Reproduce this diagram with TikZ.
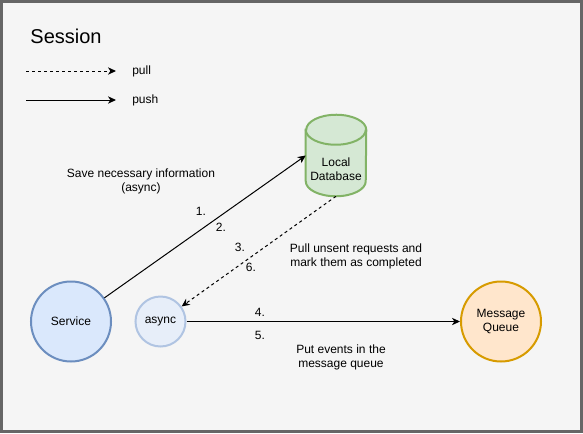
\documentclass[tikz,border=0pt]{standalone}
\usepackage{fontspec}
\setmainfont{Liberation Sans}
\usetikzlibrary{positioning,arrows.meta}
\definecolor{frameGray}{HTML}{666666}
\definecolor{paper}{HTML}{F5F5F5}
\definecolor{serviceFill}{HTML}{DAE8FC}
\definecolor{serviceLine}{HTML}{6C8EBF}
\definecolor{asyncFill}{HTML}{E7EEF9}
\definecolor{asyncLine}{HTML}{B0C4E2}
\definecolor{dbFill}{HTML}{D5E8D4}
\definecolor{dbLine}{HTML}{82B366}
\definecolor{queueFill}{HTML}{FFE6CC}
\definecolor{queueLine}{HTML}{D79B00}
\tikzset{
  every node/.style={font=\fontsize{9}{10.5}\selectfont},
  blob/.style={circle, draw, line width=1.5pt, inner sep=0pt, align=center},
  note/.style={align=center, inner sep=0pt},
  dbshape/.style={draw=dbLine, line width=1.5pt},
  dbrim/.style={x radius=22.5pt, y radius=11.25pt},
  pusharrow/.style={-{Stealth[length=6pt,width=5.5pt,inset=1.8pt]}, line width=0.75pt},
  pullarrow/.style={pusharrow, dash pattern=on 2.25pt off 2.25pt},
}
\begin{document}
\begin{tikzpicture}[x=0.75pt,y=-0.75pt]
\useasboundingbox (0,0) rectangle (583,433);
\draw[frameGray, fill=paper, line width=2.25pt] (1.5,1.5) rectangle (581.5,431.5);
% legend
\node (title) [font=\fontsize{15}{18}\selectfont] at (66,36) {Session};
\coordinate (pullA) at (26,71);
\coordinate (pullB) at (116,71);
\coordinate (pushA) at (26,100);
\coordinate (pushB) at (116,100);
\draw[pullarrow] (pullA) -- (pullB);
\draw[pusharrow] (pushA) -- (pushB);
\node (pull) [inner sep=0pt, right=12pt of pullB] {pull};
\node (push) [inner sep=0pt, right=12pt of pushB] {push};
% nodes
\node[blob, fill=serviceFill, draw=serviceLine, minimum size=60pt] (service) at (71,321.5) {Service};
\node[blob, fill=asyncFill, draw=asyncLine, minimum size=37.5pt] (async) at (160.5,321.5) {async};
\node[blob, fill=queueFill, draw=queueLine, minimum size=60pt] (queue) at (501,321.5) {Message\\Queue};
\node[minimum width=45pt, minimum height=60.75pt, inner sep=0pt] (db) at (336,155.5) {};
\draw[dbshape, fill=dbFill] ([yshift=-11.25pt]db.north west) -- ([yshift=11.25pt]db.south west)
  arc[start angle=180, end angle=360, dbrim] -- ([yshift=-11.25pt]db.north east)
  arc[start angle=0, end angle=180, dbrim] -- cycle;
\draw[dbshape] ([yshift=-11.25pt]db.north west) arc[start angle=180, end angle=360, dbrim];
\node[note] (dbText) at ([yshift=-10pt]db.center) {Local\\Database};
% connectors
\draw[pusharrow] (service) -- (db.west);
\draw[pullarrow] (db.south) -- (async);
\draw[pusharrow] (async) -- (queue);
% labels
\node[note] (step1) at (201,211) {1.};
\node[note] (step2) at (221,227) {2.};
\node[note] (step3) at (240,247) {3.};
\node[note] (step6) at (251,267) {6.};
\node[note] (step4) at (260,312) {4.};
\node[note] (step5) at (260,335) {5.};
\node[note] (saveNote) at (141,181) {Save necessary information\\(async)};
\node[note] (pullNote) at (356,256.5) {Pull unsent requests and\\mark them as completed};
\node[note] (putNote) at (341,357) {Put events in the\\message queue};
\end{tikzpicture}
\end{document}
